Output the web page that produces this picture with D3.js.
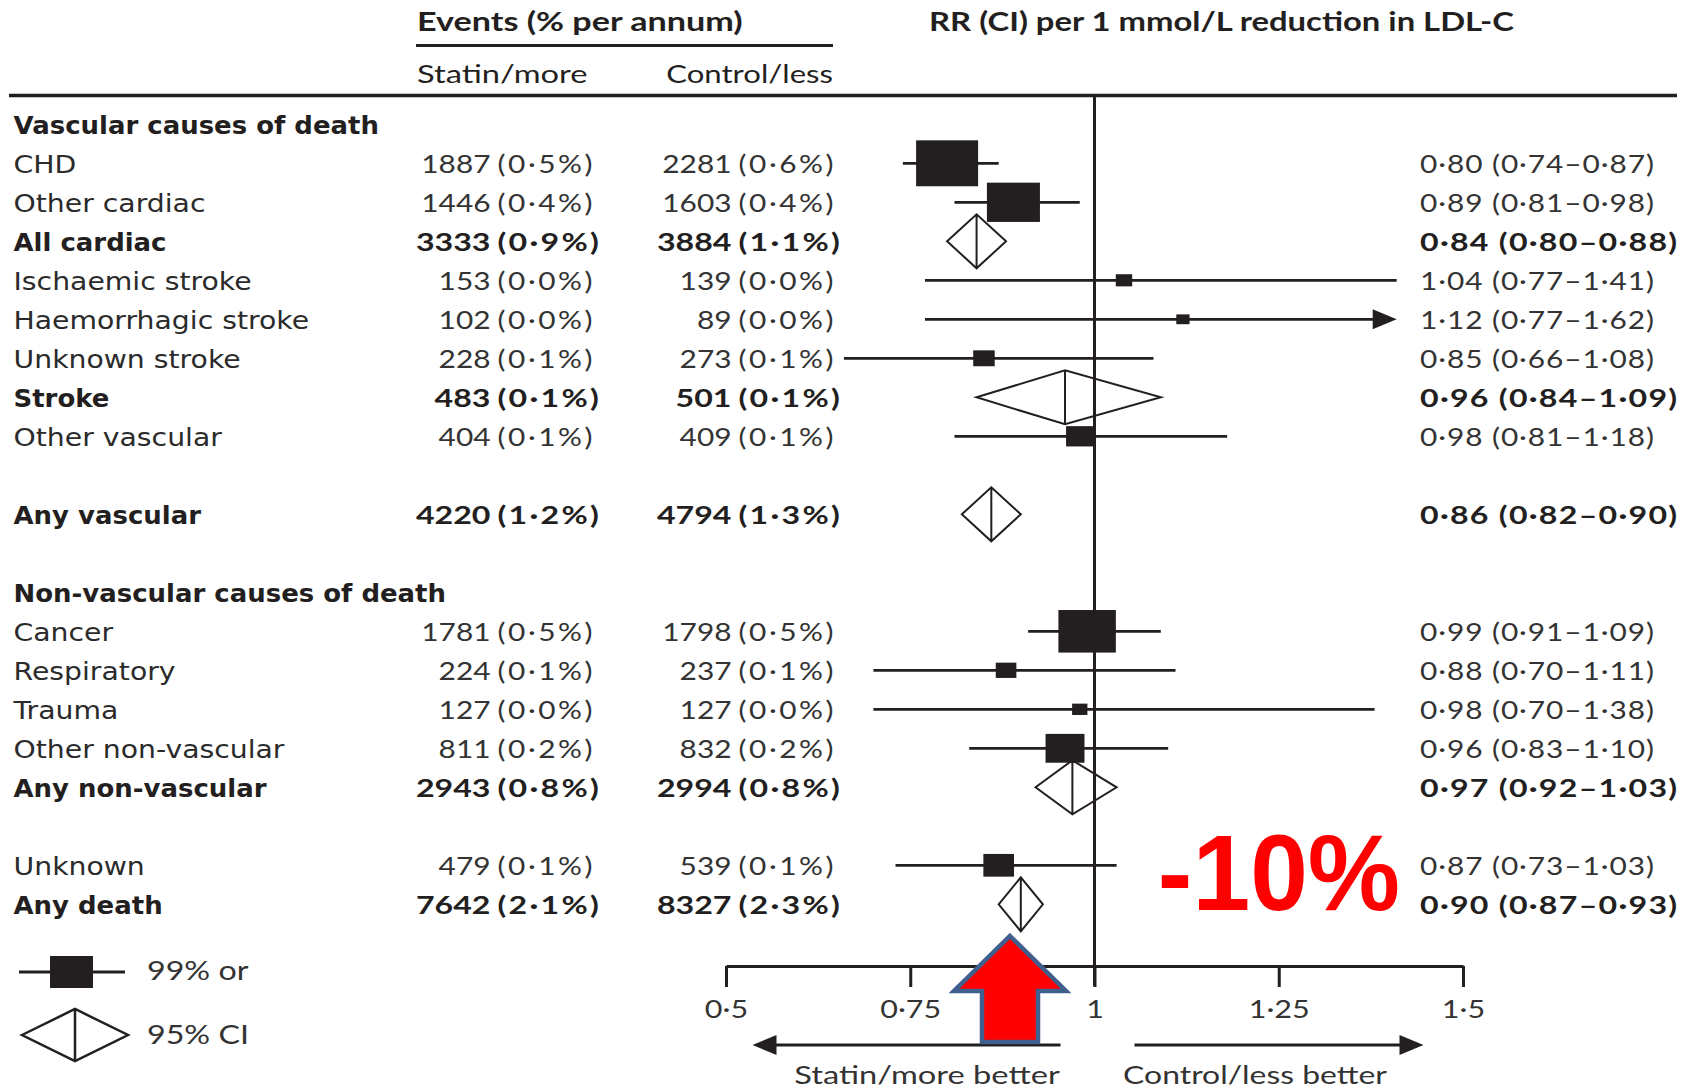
<!DOCTYPE html>
<html>
<head>
<meta charset="utf-8">
<script src="https://cdn.jsdelivr.net/npm/d3@7"></script>
<style>
  body { margin: 0; background: #fff; }
  .lab { font-family: "DejaVu Sans", sans-serif; }
  .num { font-family: Lato, "Open Sans", sans-serif; }
</style>
</head>
<body>
<div id="chart"></div>
<script>
// one entry per row, top to bottom; gaps in rowIndex are the blank lines
const labels = ["Vascular causes of death", "CHD", "Other cardiac", "All cardiac",
  "Ischaemic stroke", "Haemorrhagic stroke", "Unknown stroke", "Stroke", "Other vascular",
  "Any vascular", "Non-vascular causes of death", "Cancer", "Respiratory", "Trauma",
  "Other non-vascular", "Any non-vascular", "Unknown", "Any death"]
const rowIndex = [0, 1, 2, 3, 4, 5, 6, 7, 8, 10, 12, 13, 14, 15, 16, 17, 19, 20]
const rowType = ["head", "box", "box", "total", "box", "box", "box", "total", "box",
  "total", "head", "box", "box", "box", "box", "total", "box", "total"]

const statinEvents = [null, 1887, 1446, 3333, 153, 102, 228, 483, 404, 4220, null, 1781, 224, 127, 811, 2943, 479, 7642]
const statinPct = [null, 0.5, 0.4, 0.9, 0.0, 0.0, 0.1, 0.1, 0.1, 1.2, null, 0.5, 0.1, 0.0, 0.2, 0.8, 0.1, 2.1]
const controlEvents = [null, 2281, 1603, 3884, 139, 89, 273, 501, 409, 4794, null, 1798, 237, 127, 832, 2994, 539, 8327]
const controlPct = [null, 0.6, 0.4, 1.1, 0.0, 0.0, 0.1, 0.1, 0.1, 1.3, null, 0.5, 0.1, 0.0, 0.2, 0.8, 0.1, 2.3]

// RR per 1 mmol/L reduction in LDL-C with CI
const rr = [null, 0.80, 0.89, 0.84, 1.04, 1.12, 0.85, 0.96, 0.98, 0.86, null, 0.99, 0.88, 0.98, 0.96, 0.97, 0.87, 0.90]
const lo = [null, 0.74, 0.81, 0.80, 0.77, 0.77, 0.66, 0.84, 0.81, 0.82, null, 0.91, 0.70, 0.70, 0.83, 0.92, 0.73, 0.87]
const hi = [null, 0.87, 0.98, 0.88, 1.41, 1.62, 1.08, 1.09, 1.18, 0.90, null, 1.09, 1.11, 1.38, 1.10, 1.03, 1.03, 0.93]

const xTicks = [0.5, 0.75, 1, 1.25, 1.5]
const clipAt = 1.41 // lines reaching past this get an arrow head
const reduction = "-10%"

const W = 1694, H = 1089
const INK = "#231f20", GREY = "#333"
// the source picture is stretched sideways, so text gets a horizontal scale
const SX_LAB = 1.155, SX_LABB = 1.06
const SX_NUM = 1.17, SX_NUMB = 1.26

const rows = labels.map((d, i) => ({
  label: d, idx: rowIndex[i], type: rowType[i],
  s: statinEvents[i], sp: statinPct[i], c: controlEvents[i], cp: controlPct[i],
  rr: rr[i], lo: lo[i], hi: hi[i]
}))
const data = rows.filter(d => d.type !== "head")
const boxes = data.filter(d => d.type === "box")
const totals = data.filter(d => d.type === "total")
const isBold = d => d.type !== "box"

const dot = s => s.replace(".", "·")
const f1 = d3.format(".1f"), f2 = d3.format(".2f")

const svg = d3.select("#chart").append("svg")
  .attr("width", W).attr("height", H)

// scales
const x = d3.scaleLinear().domain([0.5, 1.5]).range([726, 1463])
const y = d3.scaleLinear().domain([0, 20]).range([125.3, 905.3])
const boxW = d3.scaleSqrt().domain([0, 4168]).range([0, 62]) // area ~ total events

const tr = (px, py, sx) => `translate(${px},${py}) scale(${sx},1)`

// headers
svg.append("text").attr("class", "num")
  .attr("transform", tr(417, 30.5, 1.265))
  .attr("font-size", 27).attr("font-weight", 700).attr("fill", INK)
  .text("Events (% per annum)")
svg.append("line")
  .attr("x1", 416).attr("x2", 833).attr("y1", 45.5).attr("y2", 45.5)
  .attr("stroke", INK).attr("stroke-width", 2.8)
svg.append("text").attr("class", "num")
  .attr("transform", tr(417, 83.3, 1.28))
  .attr("font-size", 25.5).attr("fill", INK).text("Statin/more")
svg.append("text").attr("class", "num")
  .attr("transform", tr(833, 83.3, 1.22))
  .attr("font-size", 25.5).attr("fill", INK).attr("text-anchor", "end").text("Control/less")
svg.append("text").attr("class", "num")
  .attr("transform", tr(929, 30.5, 1.215))
  .attr("font-size", 27).attr("font-weight", 700).attr("fill", INK)
  .text("RR (CI) per 1 mmol/L reduction in LDL-C")
svg.append("line")
  .attr("x1", 9).attr("x2", 1677).attr("y1", 95.5).attr("y2", 95.5)
  .attr("stroke", INK).attr("stroke-width", 3.5)

// row labels
svg.selectAll("text.rowlab").data(rows).join("text")
  .attr("class", "lab rowlab")
  .attr("transform", d => tr(13.5, y(d.idx) + 9, isBold(d) ? SX_LABB : SX_LAB))
  .attr("font-size", 24.5)
  .attr("font-weight", d => isBold(d) ? 700 : 400)
  .attr("fill", d => isBold(d) ? INK : "#2b2b2b")
  .text(d => d.label)

// event columns: count right-aligned, percentage after it
const cols = [
  {key: "s", pk: "sp", xr: 490.5},
  {key: "c", pk: "cp", xr: 731.5}
]
cols.forEach(col => {
  svg.selectAll(null).data(data).join("text")
    .attr("class", "num")
    .attr("transform", d => tr(col.xr, y(d.idx) + 9, isBold(d) ? SX_NUMB : SX_NUM))
    .attr("font-size", 25.5).attr("text-anchor", "end")
    .attr("font-weight", d => isBold(d) ? 700 : 400)
    .attr("fill", d => isBold(d) ? INK : GREY)
    .text(d => d[col.key])
  svg.selectAll(null).data(data).join("text")
    .attr("class", "num")
    .attr("transform", d => tr(col.xr + 7, y(d.idx) + 9, isBold(d) ? SX_NUMB : SX_NUM))
    .attr("font-size", 25.5)
    .attr("letter-spacing", d => isBold(d) ? 1.8 : 2.2)
    .attr("font-weight", d => isBold(d) ? 700 : 400)
    .attr("fill", d => isBold(d) ? INK : GREY)
    .text(d => `(${dot(f1(d[col.pk]))}%)`)
})

// RR text column
svg.selectAll("text.rrtxt").data(data).join("text")
  .attr("class", "num rrtxt")
  .attr("transform", d => tr(1420, y(d.idx) + 9, isBold(d) ? SX_NUMB : SX_NUM))
  .attr("font-size", 25.5)
  .attr("letter-spacing", d => isBold(d) ? 1.0 : 0.8)
  .attr("font-weight", d => isBold(d) ? 700 : 400)
  .attr("fill", d => isBold(d) ? INK : GREY)
  .text(d => `${dot(f2(d.rr))} (${dot(f2(d.lo))}–${dot(f2(d.hi))})`)

// reference line at 1
svg.append("line")
  .attr("x1", x(1)).attr("x2", x(1)).attr("y1", 95.5).attr("y2", 986)
  .attr("stroke", INK).attr("stroke-width", 3)

// axis
const axis = svg.append("g")
  .attr("transform", "translate(0,966)")
  .call(d3.axisBottom(x).tickValues(xTicks).tickSize(21).tickSizeOuter(0).tickPadding(13)
    .tickFormat(d => dot(String(d))))
axis.select(".domain").attr("stroke", INK).attr("stroke-width", 3)
axis.selectAll(".tick line").attr("stroke", INK).attr("stroke-width", 3)
axis.selectAll(".tick text")
  .attr("class", "num").attr("font-size", 25).attr("fill", GREY)
  .attr("transform", `scale(${SX_NUM + 0.05},1)`)

// CI lines
const my = d => y(d.idx) - 1
svg.selectAll("line.ci").data(boxes).join("line")
  .attr("class", "ci")
  .attr("x1", d => x(d.lo)).attr("x2", d => x(Math.min(d.hi, clipAt) - (d.hi > clipAt ? 0.03 : 0)))
  .attr("y1", my).attr("y2", my)
  .attr("stroke", INK).attr("stroke-width", 2.8)
svg.selectAll("path.clip").data(boxes.filter(d => d.hi > clipAt)).join("path")
  .attr("class", "clip")
  .attr("d", d => {
    const tx = x(clipAt), cy = my(d)
    return `M${tx},${cy} L${tx - 24},${cy - 10} L${tx - 24},${cy + 10} Z`
  })
  .attr("fill", INK)

// boxes
svg.selectAll("rect.box").data(boxes).join("rect")
  .attr("class", "box")
  .attr("x", d => x(d.rr) - boxW(d.s + d.c) / 2)
  .attr("y", d => my(d) - boxW(d.s + d.c) / 2.7)
  .attr("width", d => boxW(d.s + d.c))
  .attr("height", d => boxW(d.s + d.c) / 1.35)
  .attr("fill", INK)

// diamonds
const dh = 27
svg.selectAll("path.dia").data(totals).join("path")
  .attr("class", "dia")
  .attr("d", d => {
    const cy = my(d)
    return `M${x(d.lo)},${cy} L${x(d.rr)},${cy - dh} L${x(d.hi)},${cy} L${x(d.rr)},${cy + dh} Z`
      + ` M${x(d.rr)},${cy - dh} L${x(d.rr)},${cy + dh}`
  })
  .attr("fill", "none").attr("stroke", INK).attr("stroke-width", 2)

// legend
const lg = svg.append("g")
lg.append("line").attr("x1", 19).attr("x2", 125).attr("y1", 972).attr("y2", 972)
  .attr("stroke", INK).attr("stroke-width", 3)
lg.append("rect").attr("x", 50).attr("y", 956).attr("width", 43).attr("height", 32).attr("fill", INK)
lg.append("path")
  .attr("d", "M22,1035 L75,1009 L128,1035 L75,1061 Z M75,1009 L75,1061")
  .attr("fill", "none").attr("stroke", INK).attr("stroke-width", 2.5)
lg.append("text").attr("class", "num").attr("transform", tr(147, 980, 1.24))
  .attr("font-size", 26).attr("fill", GREY).text("99% or")
lg.append("text").attr("class", "num").attr("transform", tr(147, 1044, 1.24))
  .attr("font-size", 26).attr("fill", GREY).text("95% CI")

// direction arrows
const ax = x(1)
const dirs = svg.append("g")
dirs.append("line").attr("x1", ax - 34).attr("x2", ax - 330).attr("y1", 1045).attr("y2", 1045)
  .attr("stroke", INK).attr("stroke-width", 3)
dirs.append("path").attr("d", `M${ax - 342},1045 L${ax - 318},1035 L${ax - 318},1055 Z`).attr("fill", INK)
dirs.append("line").attr("x1", ax + 40).attr("x2", ax + 320).attr("y1", 1045).attr("y2", 1045)
  .attr("stroke", INK).attr("stroke-width", 3)
dirs.append("path").attr("d", `M${ax + 329},1045 L${ax + 305},1035 L${ax + 305},1055 Z`).attr("fill", INK)
dirs.append("text").attr("class", "num").attr("transform", tr(927, 1084, 1.28))
  .attr("font-size", 25.5).attr("fill", GREY).attr("text-anchor", "middle").text("Statin/more better")
dirs.append("text").attr("class", "num").attr("transform", tr(1255, 1084, 1.25))
  .attr("font-size", 25.5).attr("fill", GREY).attr("text-anchor", "middle").text("Control/less better")

// red highlight arrow under "Any death"
svg.append("path")
  .attr("d", "M1010,936 L1066,991 L1038,991 L1038,1042 L982,1042 L982,991 L954,991 Z")
  .attr("fill", "#ff0000").attr("stroke", "#3f5f8e").attr("stroke-width", 4.5)
  .attr("stroke-linejoin", "miter")

svg.append("text")
  .attr("transform", tr(1279, 910, 0.97))
  .attr("font-family", "'Liberation Sans', Arial, sans-serif")
  .attr("font-size", 107).attr("font-weight", 700).attr("fill", "#ff0000")
  .attr("text-anchor", "middle")
  .text(reduction)
</script>
</body>
</html>
